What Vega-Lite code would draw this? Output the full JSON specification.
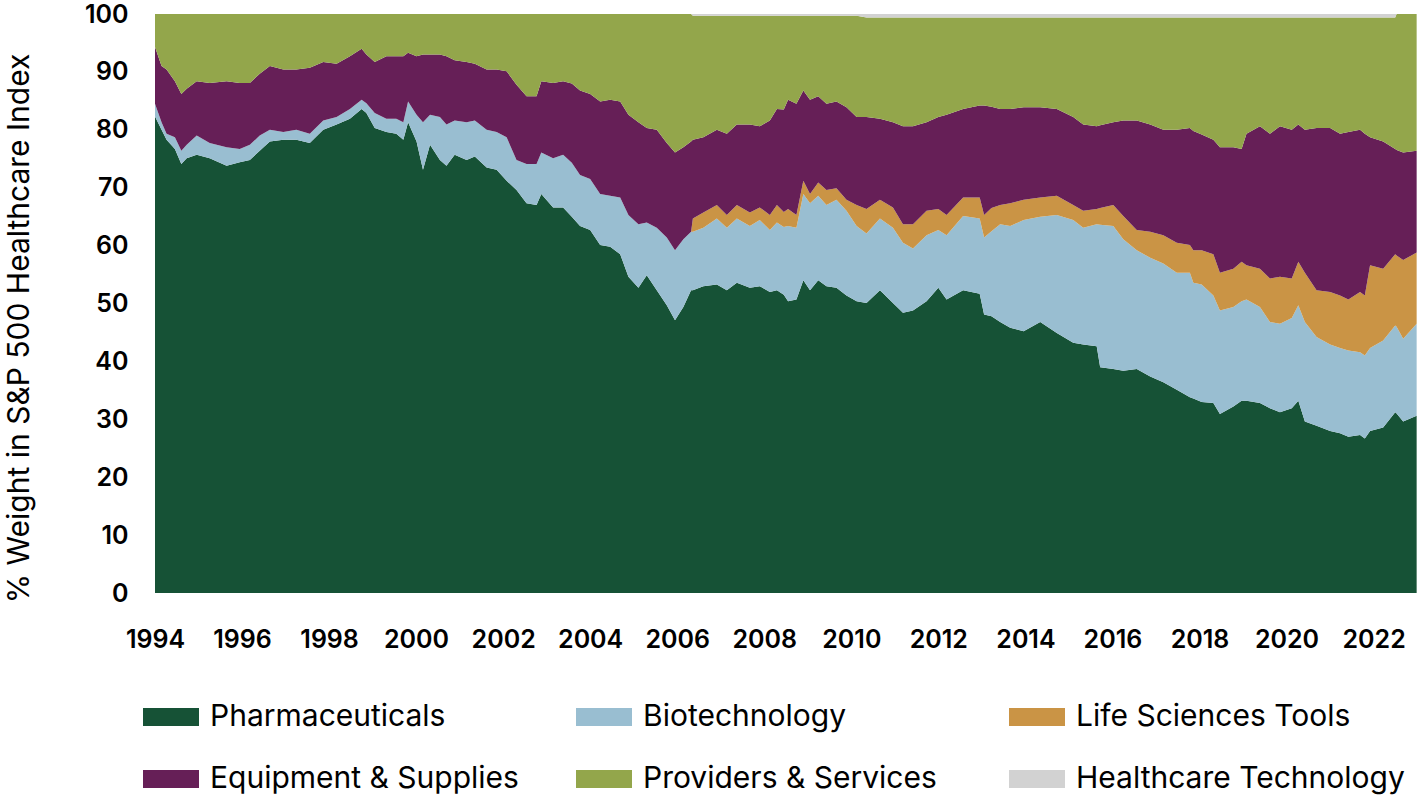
{
"$schema":"https://vega.github.io/schema/vega-lite/v6.json",
"width":1262,"height":579,
"autosize":{"type":"none"},
"padding":{"left":155,"top":14,"right":0,"bottom":202},
"background":"white",
"config":{"view":{"stroke":null},"font":"Inter"},
"data":{"values":[
{"d":"1994-01-01","A":82.3,"B":2.2,"C":0,"D":9.8,"E":5.7,"F":0},
{"d":"1994-02-25","A":80.0,"B":1.3,"C":0,"D":9.7,"E":9.0,"F":0},
{"d":"1994-04-08","A":78.3,"B":1.0,"C":0,"D":11.1,"E":9.6,"F":0},
{"d":"1994-06-17","A":76.7,"B":2.0,"C":0,"D":9.7,"E":11.6,"F":0},
{"d":"1994-08-10","A":74.1,"B":2.3,"C":0,"D":9.8,"E":13.8,"F":0},
{"d":"1994-09-24","A":75.1,"B":2.3,"C":0,"D":9.7,"E":12.9,"F":0},
{"d":"1994-12-17","A":75.7,"B":3.3,"C":0,"D":9.4,"E":11.6,"F":0},
{"d":"1995-04-05","A":75.1,"B":2.6,"C":0,"D":10.4,"E":11.9,"F":0},
{"d":"1995-08-25","A":73.8,"B":3.2,"C":0,"D":11.4,"E":11.6,"F":0},
{"d":"1995-12-13","A":74.4,"B":2.3,"C":0,"D":11.4,"E":11.9,"F":0},
{"d":"1996-03-07","A":74.8,"B":2.6,"C":0,"D":10.7,"E":11.9,"F":0},
{"d":"1996-05-29","A":76.4,"B":2.6,"C":0,"D":10.7,"E":10.3,"F":0},
{"d":"1996-08-22","A":78.0,"B":2.0,"C":0,"D":11.0,"E":9.0,"F":0},
{"d":"1996-12-13","A":78.3,"B":1.3,"C":0,"D":10.8,"E":9.6,"F":0},
{"d":"1997-04-01","A":78.3,"B":1.7,"C":0,"D":10.4,"E":9.6,"F":0},
{"d":"1997-07-23","A":77.7,"B":1.6,"C":0,"D":11.4,"E":9.3,"F":0},
{"d":"1997-11-13","A":80.0,"B":1.6,"C":0,"D":10.1,"E":8.3,"F":0},
{"d":"1998-03-05","A":80.9,"B":1.3,"C":0,"D":9.2,"E":8.6,"F":0},
{"d":"1998-06-25","A":81.9,"B":1.7,"C":0,"D":9.1,"E":7.3,"F":0},
{"d":"1998-10-01","A":83.6,"B":1.6,"C":0,"D":8.8,"E":6.0,"F":0},
{"d":"1998-11-10","A":82.9,"B":1.7,"C":0,"D":8.4,"E":7.0,"F":0},
{"d":"1999-01-19","A":80.3,"B":2.6,"C":0,"D":8.8,"E":8.3,"F":0},
{"d":"1999-04-27","A":79.6,"B":2.3,"C":0,"D":10.8,"E":7.3,"F":0},
{"d":"1999-07-19","A":79.3,"B":2.6,"C":0,"D":10.8,"E":7.3,"F":0},
{"d":"1999-09-16","A":78.3,"B":3.0,"C":0,"D":11.4,"E":7.3,"F":0},
{"d":"1999-10-26","A":81.3,"B":3.6,"C":0,"D":8.4,"E":6.7,"F":0},
{"d":"2000-01-05","A":78.0,"B":4.6,"C":0,"D":10.1,"E":7.3,"F":0},
{"d":"2000-02-28","A":73.1,"B":8.2,"C":0,"D":11.7,"E":7.0,"F":0},
{"d":"2000-04-27","A":77.4,"B":5.2,"C":0,"D":10.4,"E":7.0,"F":0},
{"d":"2000-07-19","A":74.8,"B":7.4,"C":0,"D":10.8,"E":7.0,"F":0},
{"d":"2000-09-12","A":73.8,"B":7.1,"C":0,"D":11.8,"E":7.3,"F":0},
{"d":"2000-11-20","A":75.7,"B":5.9,"C":0,"D":10.4,"E":8.0,"F":0},
{"d":"2001-02-28","A":74.8,"B":6.5,"C":0,"D":10.4,"E":8.3,"F":0},
{"d":"2001-05-08","A":75.4,"B":6.2,"C":0,"D":9.8,"E":8.6,"F":0},
{"d":"2001-08-15","A":73.5,"B":6.5,"C":0,"D":10.4,"E":9.6,"F":0},
{"d":"2001-11-07","A":73.1,"B":6.5,"C":0,"D":10.8,"E":9.6,"F":0},
{"d":"2002-01-30","A":71.2,"B":7.5,"C":0,"D":11.4,"E":9.9,"F":0},
{"d":"2002-04-23","A":69.6,"B":5.2,"C":0,"D":13.0,"E":12.2,"F":0},
{"d":"2002-07-16","A":67.3,"B":6.8,"C":0,"D":11.7,"E":14.2,"F":0},
{"d":"2002-10-08","A":67.0,"B":7.1,"C":0,"D":11.7,"E":14.2,"F":0},
{"d":"2002-11-17","A":68.9,"B":7.2,"C":0,"D":12.3,"E":11.6,"F":0},
{"d":"2003-02-24","A":66.6,"B":8.5,"C":0,"D":13.0,"E":11.9,"F":0},
{"d":"2003-05-19","A":66.6,"B":9.1,"C":0,"D":12.7,"E":11.6,"F":0},
{"d":"2003-07-31","A":65.0,"B":9.3,"C":0,"D":13.7,"E":12.0,"F":0},
{"d":"2003-10-08","A":63.4,"B":8.8,"C":0,"D":14.6,"E":13.2,"F":0},
{"d":"2004-01-01","A":62.7,"B":8.8,"C":0,"D":14.7,"E":13.8,"F":0},
{"d":"2004-03-25","A":60.1,"B":8.8,"C":0,"D":16.0,"E":15.1,"F":0},
{"d":"2004-06-17","A":59.8,"B":8.8,"C":0,"D":16.6,"E":14.8,"F":0},
{"d":"2004-09-09","A":58.5,"B":9.8,"C":0,"D":16.6,"E":15.1,"F":0},
{"d":"2004-11-17","A":54.6,"B":10.7,"C":0,"D":17.3,"E":17.4,"F":0},
{"d":"2005-02-09","A":52.7,"B":11.0,"C":0,"D":17.6,"E":18.7,"F":0},
{"d":"2005-04-20","A":54.9,"B":9.1,"C":0,"D":16.3,"E":19.7,"F":0},
{"d":"2005-07-13","A":52.3,"B":10.8,"C":0,"D":16.9,"E":20.0,"F":0},
{"d":"2005-10-05","A":49.7,"B":11.7,"C":0,"D":16.3,"E":22.3,"F":0},
{"d":"2005-12-13","A":47.1,"B":12.1,"C":0,"D":16.9,"E":23.9,"F":0},
{"d":"2006-02-21","A":49.4,"B":11.7,"C":0,"D":15.9,"E":23.0,"F":0},
{"d":"2006-04-27","A":52.3,"B":10.1,"C":0,"D":15.6,"E":22.0,"F":0},
{"d":"2006-05-12","A":52.3,"B":10.1,"C":2.3,"D":13.6,"E":21.4,"F":0.3},
{"d":"2006-08-08","A":53.0,"B":10.1,"C":2.6,"D":13.0,"E":21.0,"F":0.3},
{"d":"2006-11-29","A":53.3,"B":11.4,"C":2.3,"D":13.0,"E":19.7,"F":0.3},
{"d":"2007-02-21","A":52.3,"B":10.8,"C":2.2,"D":14.0,"E":20.4,"F":0.3},
{"d":"2007-05-16","A":53.6,"B":11.1,"C":2.3,"D":13.9,"E":18.8,"F":0.3},
{"d":"2007-09-02","A":52.7,"B":10.7,"C":2.3,"D":15.2,"E":18.8,"F":0.3},
{"d":"2007-11-24","A":53.0,"B":11.4,"C":2.2,"D":14.0,"E":19.1,"F":0.3},
{"d":"2008-02-17","A":52.0,"B":10.7,"C":2.6,"D":16.3,"E":18.1,"F":0.3},
{"d":"2008-04-16","A":52.3,"B":11.7,"C":3.0,"D":16.6,"E":16.1,"F":0.3},
{"d":"2008-06-13","A":51.5,"B":11.7,"C":2.6,"D":17.7,"E":16.2,"F":0.3},
{"d":"2008-07-19","A":50.4,"B":13.0,"C":2.9,"D":18.9,"E":14.5,"F":0.3},
{"d":"2008-09-27","A":50.7,"B":12.4,"C":2.2,"D":19.2,"E":15.2,"F":0.3},
{"d":"2008-11-24","A":54.0,"B":14.9,"C":2.3,"D":15.6,"E":12.9,"F":0.3},
{"d":"2009-01-19","A":52.3,"B":15.0,"C":1.6,"D":16.3,"E":14.5,"F":0.3},
{"d":"2009-03-29","A":54.0,"B":14.6,"C":2.3,"D":14.9,"E":13.9,"F":0.3},
{"d":"2009-06-06","A":53.0,"B":14.0,"C":2.6,"D":14.9,"E":15.2,"F":0.3},
{"d":"2009-08-29","A":52.7,"B":15.2,"C":2.0,"D":15.0,"E":14.8,"F":0.3},
{"d":"2009-11-21","A":51.4,"B":14.6,"C":1.9,"D":16.0,"E":15.8,"F":0.3},
{"d":"2010-02-14","A":50.4,"B":13.0,"C":3.6,"D":15.2,"E":17.5,"F":0.3},
{"d":"2010-05-08","A":50.1,"B":12.0,"C":4.2,"D":15.9,"E":17.2,"F":0.6},
{"d":"2010-08-29","A":52.3,"B":12.4,"C":3.2,"D":14.0,"E":17.5,"F":0.6},
{"d":"2010-12-16","A":50.1,"B":13.0,"C":3.5,"D":14.7,"E":18.1,"F":0.6},
{"d":"2011-03-10","A":48.4,"B":12.1,"C":3.2,"D":16.9,"E":18.8,"F":0.6},
{"d":"2011-06-02","A":48.8,"B":10.7,"C":4.2,"D":16.9,"E":18.8,"F":0.6},
{"d":"2011-09-24","A":50.4,"B":11.4,"C":4.2,"D":15.3,"E":18.1,"F":0.6},
{"d":"2012-01-01","A":52.7,"B":10.0,"C":3.6,"D":15.9,"E":17.2,"F":0.6},
{"d":"2012-03-10","A":50.7,"B":11.1,"C":3.5,"D":17.3,"E":16.8,"F":0.6},
{"d":"2012-07-27","A":52.3,"B":12.8,"C":3.2,"D":15.3,"E":15.8,"F":0.6},
{"d":"2012-12-13","A":51.7,"B":13.0,"C":3.6,"D":15.9,"E":15.2,"F":0.6},
{"d":"2013-01-19","A":48.1,"B":13.3,"C":3.9,"D":18.9,"E":15.2,"F":0.6},
{"d":"2013-03-22","A":47.8,"B":14.7,"C":4.0,"D":17.5,"E":15.4,"F":0.6},
{"d":"2013-06-03","A":46.8,"B":16.9,"C":3.3,"D":16.6,"E":15.8,"F":0.6},
{"d":"2013-08-26","A":45.8,"B":17.6,"C":3.9,"D":16.3,"E":15.8,"F":0.6},
{"d":"2013-12-17","A":45.2,"B":19.2,"C":3.5,"D":16.0,"E":15.5,"F":0.6},
{"d":"2014-05-05","A":46.8,"B":18.2,"C":3.3,"D":15.6,"E":15.5,"F":0.6},
{"d":"2014-09-21","A":44.9,"B":20.4,"C":3.3,"D":15.0,"E":15.8,"F":0.6},
{"d":"2015-02-06","A":43.2,"B":21.2,"C":2.6,"D":15.2,"E":17.2,"F":0.6},
{"d":"2015-05-01","A":42.9,"B":20.2,"C":2.9,"D":14.9,"E":18.5,"F":0.6},
{"d":"2015-08-22","A":42.6,"B":21.1,"C":2.6,"D":14.3,"E":18.8,"F":0.6},
{"d":"2015-09-20","A":39.0,"B":24.6,"C":2.9,"D":14.3,"E":18.6,"F":0.6},
{"d":"2016-01-08","A":38.7,"B":24.7,"C":3.6,"D":14.3,"E":18.1,"F":0.6},
{"d":"2016-04-01","A":38.4,"B":22.7,"C":4.0,"D":16.5,"E":17.8,"F":0.6},
{"d":"2016-07-23","A":38.7,"B":20.5,"C":3.5,"D":18.9,"E":17.8,"F":0.6},
{"d":"2016-11-13","A":37.4,"B":20.5,"C":4.5,"D":18.5,"E":18.5,"F":0.6},
{"d":"2017-03-03","A":36.4,"B":20.5,"C":4.9,"D":18.2,"E":19.4,"F":0.6},
{"d":"2017-06-24","A":35.1,"B":20.2,"C":5.2,"D":19.5,"E":19.4,"F":0.6},
{"d":"2017-10-12","A":33.8,"B":21.5,"C":4.8,"D":20.2,"E":19.1,"F":0.6},
{"d":"2017-11-10","A":33.6,"B":20.0,"C":5.6,"D":20.6,"E":19.6,"F":0.6},
{"d":"2018-01-19","A":33.0,"B":20.3,"C":5.9,"D":20.0,"E":20.2,"F":0.6},
{"d":"2018-04-27","A":32.8,"B":18.6,"C":7.1,"D":19.8,"E":21.1,"F":0.6},
{"d":"2018-06-21","A":30.9,"B":17.9,"C":6.5,"D":21.7,"E":22.4,"F":0.6},
{"d":"2018-10-12","A":32.2,"B":17.2,"C":6.6,"D":21.0,"E":22.4,"F":0.6},
{"d":"2018-12-20","A":33.2,"B":17.2,"C":6.8,"D":19.5,"E":22.7,"F":0.6},
{"d":"2019-01-30","A":33.2,"B":17.5,"C":5.9,"D":22.7,"E":20.1,"F":0.6},
{"d":"2019-05-23","A":32.8,"B":16.6,"C":6.6,"D":24.6,"E":18.8,"F":0.6},
{"d":"2019-08-15","A":31.9,"B":14.9,"C":7.5,"D":25.0,"E":20.1,"F":0.6},
{"d":"2019-11-07","A":31.2,"B":15.3,"C":8.1,"D":26.0,"E":18.8,"F":0.6},
{"d":"2020-02-14","A":31.9,"B":15.6,"C":6.8,"D":25.7,"E":19.4,"F":0.6},
{"d":"2020-04-09","A":33.2,"B":16.5,"C":7.5,"D":23.7,"E":18.5,"F":0.6},
{"d":"2020-06-03","A":29.6,"B":17.2,"C":8.5,"D":24.7,"E":19.4,"F":0.6},
{"d":"2020-09-09","A":28.9,"B":15.3,"C":8.1,"D":28.0,"E":19.1,"F":0.6},
{"d":"2021-01-01","A":28.0,"B":14.9,"C":9.1,"D":28.3,"E":19.1,"F":0.6},
{"d":"2021-03-25","A":27.6,"B":14.7,"C":9.1,"D":27.9,"E":20.1,"F":0.6},
{"d":"2021-06-03","A":27.0,"B":14.9,"C":8.8,"D":28.9,"E":19.8,"F":0.6},
{"d":"2021-09-09","A":27.3,"B":14.3,"C":10.4,"D":28.0,"E":19.4,"F":0.6},
{"d":"2021-10-19","A":26.7,"B":14.3,"C":10.4,"D":27.9,"E":20.1,"F":0.6},
{"d":"2021-12-02","A":28.0,"B":14.3,"C":14.3,"D":22.1,"E":20.7,"F":0.6},
{"d":"2022-03-22","A":28.6,"B":15.0,"C":12.4,"D":22.0,"E":21.4,"F":0.6},
{"d":"2022-07-01","A":31.2,"B":15.0,"C":12.3,"D":18.2,"E":22.7,"F":0.6},
{"d":"2022-07-13","A":31.0,"B":15.0,"C":12.3,"D":18.2,"E":23.5,"F":0},
{"d":"2022-09-06","A":29.6,"B":14.3,"C":13.6,"D":18.6,"E":23.9,"F":0},
{"d":"2022-12-28","A":30.6,"B":15.9,"C":12.3,"D":17.6,"E":23.6,"F":0}
]},
"transform":[{"fold":["A","B","C","D","E","F"],"as":["k","v"]}],
"mark":{"type":"area","interpolate":"linear"},
"encoding":{
"x":{"field":"d","type":"temporal",
"scale":{"domain":[{"year":1994,"month":1,"date":1},{"year":2022,"month":12,"date":31}]},
"axis":{"title":null,"tickCount":{"interval":"year","step":2},"format":"%Y","ticks":false,"domain":false,"grid":false,
"labelFont":"Inter","labelFontSize":25,"labelFontWeight":600,"labelColor":"#000000","labelPadding":34,
"labelFlush":false,"labelOverlap":false,"labelBound":false}},
"y":{"field":"v","type":"quantitative","stack":"zero",
"scale":{"domain":[0,100],"nice":false},
"axis":{"values":[0,10,20,30,40,50,60,70,80,90,100],"ticks":false,"domain":false,"grid":false,
"labelFont":"Inter","labelFontSize":25,"labelFontWeight":600,"labelColor":"#000000","labelPadding":27,
"title":"% Weight in S&P 500 Healthcare Index","titleFont":"Inter","titleFontSize":30,"titleFontWeight":"normal",
"titleColor":"#000000","titleX":-127,"titleY":314,"titleAngle":-90,"titleBaseline":"alphabetic","titleAlign":"center"}},
"order":{"field":"k","sort":"ascending"},
"color":{"field":"k","type":"nominal",
"scale":{"domain":["A","B","C","D","E","F"],"range":["#165236","#99BED1","#CA9445","#661F57","#93A64B","#D2D2D2"]},
"legend":{"orient":"none","legendX":-12,"legendY":675,"direction":"horizontal","columns":3,"gridAlign":"all",
"columnPadding":37,"rowPadding":19,"symbolType":"M-1,-0.32H1V0.32H-1Z","symbolSize":3136,"symbolStrokeWidth":0,
"symbolOpacity":1,"labelFont":"Inter","labelFontSize":30,"labelColor":"#000000","labelOffset":11,"labelLimit":600,
"title":null,"padding":0,
"labelExpr":"datum.label=='A'?'Pharmaceuticals':datum.label=='B'?'Biotechnology':datum.label=='C'?'Life Sciences Tools':datum.label=='D'?'Equipment & Supplies':datum.label=='E'?'Providers & Services':'Healthcare Technology'"}}
}
}
